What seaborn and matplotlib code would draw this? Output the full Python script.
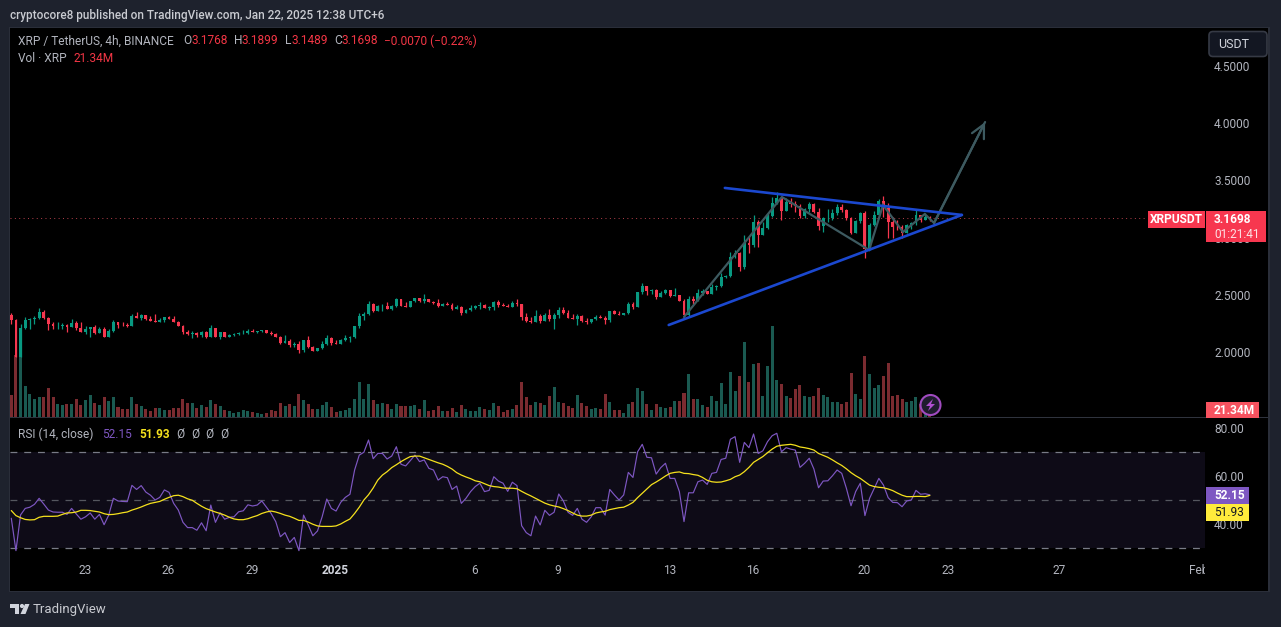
import numpy as np
import pandas as pd
import matplotlib
matplotlib.use("Agg")
import matplotlib.pyplot as plt
from matplotlib.patches import Rectangle, FancyBboxPatch, Circle, Polygon
from matplotlib.transforms import IdentityTransform
import seaborn as sns

# XRP/USDT 4h bars
start_time = pd.Timestamp("2024-12-20 08:30")
first_open = 2.323

closes = [
    2.280, 1.960, 2.213, 2.280, 2.286, 2.297, 2.350, 2.297, 2.245, 2.227,
    2.230, 2.236, 2.221, 2.254, 2.210, 2.175, 2.201, 2.218, 2.163, 2.201,
    2.131, 2.184, 2.262, 2.236, 2.232, 2.228, 2.315, 2.297, 2.323, 2.288,
    2.271, 2.262, 2.280, 2.306, 2.288, 2.262, 2.227, 2.175, 2.157, 2.163,
    2.149, 2.175, 2.131, 2.210, 2.131, 2.175, 2.131, 2.149, 2.157, 2.166,
    2.170, 2.184, 2.175, 2.181, 2.192, 2.166, 2.157, 2.131, 2.079, 2.096,
    2.061, 2.070, 2.017, 2.105, 2.044, 2.009, 2.035, 2.070, 2.122, 2.079,
    2.074, 2.105, 2.123, 2.134, 2.227, 2.315, 2.332, 2.420, 2.359, 2.402,
    2.405, 2.376, 2.402, 2.463, 2.402, 2.396, 2.446, 2.472, 2.446, 2.463,
    2.437, 2.431, 2.402, 2.420, 2.411, 2.376, 2.394, 2.341, 2.367, 2.385,
    2.402, 2.411, 2.385, 2.391, 2.437, 2.411, 2.405, 2.394, 2.428, 2.420,
    2.306, 2.271, 2.262, 2.315, 2.271, 2.324, 2.289, 2.324, 2.367, 2.341,
    2.297, 2.292, 2.315, 2.271, 2.265, 2.286, 2.306, 2.297, 2.280, 2.359,
    2.332, 2.324, 2.341, 2.420, 2.394, 2.525, 2.577, 2.533, 2.542, 2.481,
    2.516, 2.542, 2.490, 2.495, 2.446, 2.324, 2.463, 2.449, 2.513, 2.533,
    2.507, 2.568, 2.574, 2.659, 2.667, 2.827, 2.862, 2.746, 2.950, 2.935,
    3.139, 3.023, 3.081, 3.189, 3.305, 3.346, 3.235, 3.308, 3.291, 3.279,
    3.189, 3.250, 3.291, 3.227, 3.104, 3.168, 3.174, 3.212, 3.270, 3.241,
    3.168, 3.037, 3.145, 3.218, 2.897, 3.110, 3.197, 3.320, 3.262, 3.139,
    3.096, 3.090, 3.043, 3.110, 3.125, 3.197, 3.154, 3.177, 3.1698,
]
highs = [
    2.344, 2.290, 2.245, 2.303, 2.294, 2.315, 2.385, 2.367, 2.306, 2.262,
    2.262, 2.253, 2.245, 2.288, 2.271, 2.262, 2.227, 2.218, 2.236, 2.218,
    2.218, 2.201, 2.280, 2.262, 2.262, 2.253, 2.332, 2.350, 2.332, 2.323,
    2.315, 2.332, 2.297, 2.306, 2.315, 2.315, 2.271, 2.236, 2.192, 2.184,
    2.175, 2.184, 2.184, 2.236, 2.210, 2.175, 2.175, 2.157, 2.166, 2.175,
    2.192, 2.201, 2.201, 2.181, 2.192, 2.192, 2.184, 2.166, 2.140, 2.149,
    2.114, 2.087, 2.096, 2.105, 2.140, 2.052, 2.035, 2.096, 2.149, 2.131,
    2.105, 2.110, 2.149, 2.140, 2.227, 2.341, 2.350, 2.446, 2.428, 2.411,
    2.420, 2.437, 2.411, 2.472, 2.463, 2.437, 2.446, 2.472, 2.472, 2.507,
    2.463, 2.446, 2.463, 2.428, 2.437, 2.428, 2.411, 2.402, 2.376, 2.411,
    2.411, 2.437, 2.420, 2.402, 2.446, 2.455, 2.428, 2.420, 2.446, 2.463,
    2.420, 2.341, 2.306, 2.367, 2.332, 2.341, 2.376, 2.341, 2.394, 2.394,
    2.367, 2.332, 2.332, 2.324, 2.297, 2.286, 2.324, 2.324, 2.315, 2.359,
    2.367, 2.359, 2.341, 2.437, 2.437, 2.525, 2.603, 2.577, 2.551, 2.551,
    2.533, 2.551, 2.542, 2.560, 2.500, 2.460, 2.490, 2.490, 2.551, 2.551,
    2.533, 2.591, 2.586, 2.688, 2.676, 2.871, 2.892, 2.870, 3.023, 3.008,
    3.198, 3.154, 3.139, 3.212, 3.352, 3.396, 3.358, 3.343, 3.343, 3.323,
    3.294, 3.262, 3.308, 3.300, 3.256, 3.183, 3.247, 3.247, 3.291, 3.291,
    3.247, 3.183, 3.154, 3.227, 3.235, 3.125, 3.235, 3.335, 3.364, 3.300,
    3.183, 3.154, 3.110, 3.119, 3.139, 3.241, 3.197, 3.212, 3.1899,
]
lows = [
    2.245, 1.960, 1.960, 2.201, 2.201, 2.245, 2.288, 2.288, 2.192, 2.201,
    2.201, 2.201, 2.178, 2.218, 2.192, 2.175, 2.157, 2.131, 2.157, 2.166,
    2.131, 2.131, 2.175, 2.210, 2.227, 2.218, 2.227, 2.297, 2.280, 2.280,
    2.271, 2.262, 2.262, 2.262, 2.288, 2.262, 2.227, 2.157, 2.149, 2.122,
    2.131, 2.131, 2.122, 2.131, 2.131, 2.114, 2.131, 2.131, 2.140, 2.149,
    2.157, 2.157, 2.175, 2.166, 2.175, 2.166, 2.149, 2.131, 2.070, 2.079,
    2.044, 2.044, 1.991, 2.000, 2.035, 2.009, 2.009, 2.026, 2.061, 2.061,
    2.070, 2.073, 2.096, 2.088, 2.123, 2.210, 2.280, 2.323, 2.350, 2.359,
    2.359, 2.376, 2.367, 2.394, 2.402, 2.394, 2.394, 2.437, 2.437, 2.428,
    2.437, 2.420, 2.394, 2.402, 2.411, 2.367, 2.376, 2.324, 2.341, 2.359,
    2.376, 2.376, 2.385, 2.367, 2.367, 2.394, 2.402, 2.394, 2.394, 2.402,
    2.280, 2.262, 2.254, 2.262, 2.254, 2.271, 2.271, 2.201, 2.297, 2.332,
    2.297, 2.289, 2.236, 2.262, 2.245, 2.254, 2.280, 2.297, 2.245, 2.263,
    2.332, 2.324, 2.324, 2.332, 2.376, 2.394, 2.507, 2.498, 2.507, 2.463,
    2.481, 2.507, 2.481, 2.490, 2.446, 2.309, 2.318, 2.420, 2.449, 2.498,
    2.507, 2.507, 2.542, 2.565, 2.647, 2.653, 2.818, 2.708, 2.725, 2.863,
    2.921, 2.921, 3.023, 3.072, 3.177, 3.294, 3.154, 3.235, 3.270, 3.227,
    3.168, 3.174, 3.227, 3.218, 3.066, 3.052, 3.139, 3.154, 3.198, 3.227,
    3.154, 3.031, 3.037, 3.125, 2.819, 2.892, 3.101, 3.197, 3.183, 2.994,
    2.994, 3.066, 3.000, 3.037, 3.072, 3.110, 3.139, 3.154, 3.1489,
]
volumes = [
    60, 165, 165, 83, 62, 49, 54, 54, 78, 54,
    36, 33, 36, 36, 49, 33, 46, 60, 38, 33,
    54, 44, 54, 28, 22, 22, 54, 36, 30, 22,
    17, 25, 25, 20, 20, 25, 25, 49, 38, 38,
    25, 33, 28, 46, 36, 30, 20, 17, 12, 14,
    20, 17, 14, 12, 9, 12, 20, 17, 38, 30,
    36, 30, 62, 46, 36, 22, 22, 33, 41, 28,
    14, 17, 20, 25, 49, 94, 49, 89, 46, 36,
    38, 36, 22, 36, 30, 30, 30, 33, 22, 46,
    17, 20, 30, 17, 17, 25, 14, 33, 22, 17,
    17, 28, 22, 20, 38, 30, 14, 20, 22, 33,
    94, 54, 33, 41, 38, 33, 57, 81, 41, 38,
    30, 25, 60, 38, 30, 22, 25, 22, 62, 41,
    20, 20, 12, 36, 41, 78, 70, 36, 20, 36,
    28, 23, 26, 44, 44, 63, 114, 47, 47, 31,
    28, 55, 42, 90, 34, 119, 69, 109, 199, 93,
    141, 143, 55, 135, 242, 98, 87, 55, 50, 74,
    85, 55, 53, 55, 77, 58, 53, 39, 39, 36,
    39, 117, 61, 47, 162, 114, 77, 85, 109, 143,
    55, 58, 47, 39, 42, 53, 34, 20, 21.34,
]
rsi = [
    42.4, 28.9, 43.8, 46.5, 47.0, 48.2, 50.7, 48.3, 45.8, 45.0,
    44.9, 44.9, 44.0, 46.5, 44.2, 42.0, 43.0, 44.6, 42.0, 44.0,
    39.7, 43.7, 50.7, 49.6, 49.4, 49.3, 56.1, 54.4, 56.0, 53.3,
    52.0, 50.0, 51.1, 54.2, 53.2, 48.6, 45.8, 40.7, 38.5, 38.5,
    37.4, 40.5, 37.2, 47.9, 40.7, 44.7, 42.0, 42.8, 43.0, 45.1,
    45.5, 48.0, 47.5, 47.9, 49.6, 47.0, 44.4, 41.0, 34.7, 36.4,
    32.3, 34.4, 28.9, 43.7, 39.6, 35.1, 37.1, 43.0, 50.4, 46.5,
    45.4, 49.0, 51.1, 52.4, 62.5, 68.7, 69.9, 75.0, 67.2, 69.4,
    69.4, 67.1, 68.3, 72.2, 64.9, 64.2, 66.4, 68.7, 66.0, 66.7,
    63.2, 62.5, 58.3, 59.7, 59.3, 54.4, 55.8, 48.6, 50.7, 53.5,
    55.6, 57.0, 53.5, 54.0, 59.7, 57.9, 57.0, 53.6, 57.4, 56.0,
    39.3, 36.4, 35.1, 43.3, 39.6, 45.7, 43.6, 44.9, 52.5, 49.6,
    44.9, 43.6, 46.5, 42.0, 40.7, 43.0, 46.8, 46.8, 43.7, 54.4,
    52.1, 50.0, 52.1, 61.5, 59.4, 70.1, 73.2, 67.8, 67.6, 60.8,
    63.5, 65.3, 59.0, 59.0, 53.5, 41.0, 53.0, 53.0, 57.6, 58.3,
    56.5, 61.1, 61.5, 66.9, 67.4, 75.3, 76.4, 65.7, 74.0, 71.8,
    77.5, 69.4, 70.5, 74.3, 76.8, 77.8, 70.1, 71.8, 71.2, 70.8,
    63.6, 65.3, 67.4, 62.9, 55.1, 57.9, 58.0, 60.1, 62.5, 61.1,
    54.9, 47.6, 53.5, 57.0, 43.5, 50.7, 54.9, 59.0, 56.2, 51.0,
    49.0, 48.9, 47.2, 49.6, 50.0, 54.0, 52.4, 52.6, 52.15,
]
rsi_ma = [
    45.6, 43.5, 42.6, 41.9, 41.7, 41.8, 42.8, 43.2, 43.2, 43.2,
    43.3, 44.0, 44.6, 44.7, 45.0, 45.7, 45.7, 45.6, 45.3, 45.0,
    44.3, 43.9, 44.0, 44.3, 44.7, 45.0, 45.8, 46.4, 47.1, 47.9,
    48.6, 49.0, 49.4, 50.3, 51.1, 51.8, 52.0, 51.4, 50.5, 49.9,
    48.6, 47.4, 46.4, 45.7, 45.0, 44.4, 43.7, 42.8, 42.1, 41.8,
    41.8, 42.2, 42.9, 43.5, 44.4, 45.0, 45.4, 45.0, 44.4, 43.7,
    43.2, 42.4, 41.5, 41.5, 40.8, 39.9, 39.2, 39.0, 39.0, 39.0,
    39.2, 40.0, 41.1, 42.1, 44.4, 47.0, 50.0, 52.2, 55.0, 58.3,
    60.4, 61.8, 63.5, 64.7, 66.0, 67.1, 68.1, 68.3, 68.3, 67.6,
    66.9, 66.2, 65.5, 64.9, 64.0, 62.9, 61.4, 60.4, 59.6, 58.9,
    58.0, 57.6, 56.8, 56.0, 55.6, 55.4, 55.0, 54.9, 54.9, 54.7,
    53.6, 52.6, 51.7, 50.7, 49.7, 48.7, 48.0, 47.5, 47.1, 46.4,
    45.6, 44.6, 43.7, 43.3, 43.3, 43.7, 44.6, 45.0, 45.3, 46.0,
    46.4, 46.8, 47.0, 47.9, 49.0, 51.0, 52.8, 54.6, 56.4, 57.5,
    58.7, 60.0, 61.1, 61.5, 61.7, 61.1, 61.0, 60.6, 60.3, 59.4,
    58.2, 57.6, 57.4, 57.5, 58.0, 58.6, 59.7, 60.4, 61.8, 63.6,
    65.7, 66.9, 68.1, 69.7, 71.2, 72.4, 72.8, 73.0, 73.2, 72.8,
    72.1, 71.8, 71.4, 70.8, 69.4, 68.6, 67.8, 66.7, 65.5, 64.4,
    63.0, 61.4, 60.1, 59.0, 57.6, 56.2, 55.6, 55.3, 55.1, 54.6,
    53.9, 52.9, 52.0, 51.4, 51.4, 51.5, 51.5, 51.4, 51.93,
]

# hand-drawn lines on the chart (bar number, price)
upper_bar = [153.8, 204.9]
upper_price = [3.434, 3.198]
lower_bar = [141.7, 204.9]
lower_price = [2.236, 3.198]
path_bar = [145.0, 166.1, 184.9, 187.9, 192.2, 196.9, 198.9, 209.9]
path_price = [2.306, 3.355, 2.892, 3.285, 3.049, 3.206, 3.128, 4.010]

price_ticks = [2.0, 2.5, 3.0, 3.5, 4.0, 4.5]
rsi_ticks = [40, 60, 80]
rsi_levels = [30, 50, 70]
tick_dates = ["2024-12-23", "2024-12-26", "2024-12-29", "2025-01-01", "2025-01-06", "2025-01-09",
              "2025-01-13", "2025-01-16", "2025-01-20", "2025-01-23", "2025-01-27", "2025-02-01"]
tick_labels = ["23", "26", "29", "2025", "6", "9", "13", "16", "20", "23", "27", "Feb"]

W, H = 1281, 627
BG = "#1e222d"
FRAME = "#2a2e39"
GREY = "#b2b5be"
GREEN = "#089981"
RED = "#f7374f"
VOL_GREEN = "#1a5a51"
VOL_RED = "#7b2b30"
PURPLE = "#7e57c2"
YELLOW = "#f5e11d"
BLUE = "#1b48cf"
PATH = "#3d5a60"

sns.set_theme(style="dark", rc={"axes.facecolor": "none", "figure.facecolor": BG})
plt.rcParams["font.family"] = ["Roboto", "DejaVu Sans"]

df = pd.DataFrame({"close": closes, "high": highs, "low": lows, "volume": volumes, "rsi": rsi, "rsi_ma": rsi_ma})
df["bar"] = np.arange(len(df))
df["open"] = df["close"].shift(1).fillna(first_open)
df["side"] = np.where(df["close"] >= df["open"], "up", "down")
candle_colors = df["side"].map({"up": GREEN, "down": RED})

fig = plt.figure(figsize=(W / 100, H / 100), dpi=100)


def pane(left, top, right, bottom):
    return fig.add_axes([left / W, 1 - bottom / H, (right - left) / W, (bottom - top) / H])


def label(x, y, s, color=GREY, size=8.6, weight="normal", ha="left", zorder=7):
    fig.text(x, H - y, s, color=color, fontsize=size, fontweight=weight, ha=ha, va="center",
             transform=IdentityTransform(), zorder=zorder)


def box(x0, y0, x1, y1, color, zorder=5):
    fig.add_artist(Rectangle((x0, H - y1), x1 - x0, y1 - y0, facecolor=color, edgecolor="none",
                             transform=IdentityTransform(), zorder=zorder))


# black chart area behind the panes
box(9, 27, 1270, 592, FRAME, zorder=-2)
box(10, 28, 1268, 591, "#000000", zorder=-1)

ax = pane(10, 28, 1205, 417)
vol_ax = ax.twinx()
rsi_ax = pane(10, 418, 1205, 590)
x_limits = (-0.28, 257.3)

# candles
ax.vlines(df["bar"], df["low"], df["high"], colors=candle_colors, linewidth=0.9, zorder=2)
ax.bar(df["bar"], (df["close"] - df["open"]).abs(), bottom=df[["open", "close"]].min(axis=1),
       width=0.62, color=candle_colors, edgecolor="none", linewidth=0, zorder=3)
ax.axhline(closes[-1], xmax=0.952, color="#b8404d", linestyle=(0, (1, 3.5)), linewidth=0.7, zorder=1)
ax.set_xlim(x_limits)
ax.set_ylim(1.432, 4.832)
ax.yaxis.tick_right()
ax.set_yticks(price_ticks, [f"{p:.4f}" for p in price_ticks])
ax.tick_params(axis="y", length=0, pad=6.5, labelsize=8.6, labelcolor=GREY)
ax.set_xticks([])
ax.grid(False)

# volume
sns.barplot(data=df, x="bar", y="volume", hue="side", palette={"up": VOL_GREEN, "down": VOL_RED},
            native_scale=True, dodge=False, width=0.65, saturation=1, legend=False, ax=vol_ax,
            edgecolor="none", linewidth=0, zorder=4)
vol_ax.set_xlim(x_limits)
vol_ax.set_ylim(0, 1039)
vol_ax.set_xlabel("")
vol_ax.set_ylabel("")
vol_ax.set_xticks([])
vol_ax.set_yticks([])
vol_ax.grid(False)

# triangle and projected path
sns.lineplot(x=upper_bar, y=upper_price, color=BLUE, linewidth=1.9, ax=ax, zorder=6)
sns.lineplot(x=lower_bar, y=lower_price, color=BLUE, linewidth=1.9, ax=ax, zorder=6)
ax.plot(path_bar, path_price, color=PATH, linewidth=1.6, zorder=5, solid_joinstyle="miter")
ax.annotate("", xy=(path_bar[-1], path_price[-1]), xytext=(path_bar[-2], path_price[-2]),
            arrowprops=dict(arrowstyle="->", color=PATH, lw=1.6, mutation_scale=24, shrinkA=0, shrinkB=0), zorder=5)
ax.set_xlim(x_limits)
ax.set_ylim(1.432, 4.832)
ax.set_xlabel("")
ax.set_ylabel("")
ax.set_zorder(vol_ax.get_zorder() + 1)

# RSI
rsi_ax.axhspan(rsi_levels[0], rsi_levels[-1], xmin=0, xmax=1, color="#0e0b17", linewidth=0, zorder=0)
for level in rsi_levels:
    rsi_ax.axhline(level, color="#787b86" if level != 50 else "#55575f", linewidth=0.9,
                   linestyle=(0, (5.5, 5.5)), zorder=1)
sns.lineplot(data=df, x="bar", y="rsi", color=PURPLE, linewidth=0.85, ax=rsi_ax, zorder=2)
sns.lineplot(data=df, x="bar", y="rsi_ma", color=YELLOW, linewidth=0.9, ax=rsi_ax, zorder=3)
rsi_ax.set_xlim(x_limits)
rsi_ax.set_ylim(12.5, 84.17)
rsi_ax.set_xlabel("")
rsi_ax.set_ylabel("")
rsi_ax.yaxis.tick_right()
rsi_ax.set_yticks(rsi_ticks, [f"{v:.2f}" for v in rsi_ticks])
rsi_ax.tick_params(axis="y", length=0, pad=6.5, labelsize=8.6, labelcolor=GREY)
tick_pos = [(pd.Timestamp(d) - start_time) / pd.Timedelta(hours=4) for d in tick_dates]
rsi_ax.set_xticks(tick_pos, tick_labels)
rsi_ax.tick_params(axis="x", length=0, pad=-19, labelsize=8.6, labelcolor=GREY)
for lab in rsi_ax.get_xticklabels():
    lab.set_clip_on(True)
    lab.set_clip_box(rsi_ax.bbox)
    if lab.get_text() == "2025":
        lab.set_fontweight("bold")
        lab.set_color("#d1d4dc")
rsi_ax.grid(False)

for a in (ax, vol_ax, rsi_ax):
    for spine in a.spines.values():
        spine.set_visible(False)

# pane divider and axis separator
box(10, 417, 1268, 418, "#2f333d", zorder=4)

# header
label(10, 15, "cryptocore8 published on TradingView.com, Jan 22, 2025 12:38 UTC+6", color="#c9cbd1", size=8.5, weight="medium")

legend_items = [
    (18, "XRP / TetherUS, 4h, BINANCE", GREY), (183, "O", GREY), (191, "3.1768", "#f23645"),
    (234, "H", GREY), (242, "3.1899", "#f23645"), (285, "L", GREY), (291, "3.1489", "#f23645"),
    (334, "C", GREY), (342, "3.1698", "#f23645"), (384, "−0.0070 (−0.22%)", "#f23645"),
]
for x, s, c in legend_items:
    label(x, 41, s, color=c)
label(18, 59, "Vol · XRP")
label(73, 59, "21.34M", color="#f23645")

label(18, 434, "RSI (14, close)")
label(102, 434, "52.15", color=PURPLE)
label(139, 434, "51.93", color=YELLOW, weight="bold")
for x in (176, 191, 205, 220):
    label(x, 434, "Ø")

# currency button
fig.add_artist(FancyBboxPatch((1209, H - 56.5), 58, 25, boxstyle="round,pad=0,rounding_size=4", mutation_aspect=1,
                              facecolor="#131722", edgecolor="#363a45", linewidth=1.2,
                              transform=IdentityTransform(), zorder=5))
label(1218, 44.5, "USDT", color="#d1d4dc", size=9)

# price tags on the scale
box(1148, 211, 1205, 228, "#f7374f")
label(1176.5, 219.5, "XRPUSDT", color="white", weight="bold", ha="center")
box(1206, 211, 1266, 242, "#f7374f")
label(1214, 219.5, "3.1698", color="white", weight="bold")
label(1214, 234, "01:21:41", color="#fde1e4")
box(1206, 402, 1259, 418, "#f7525f")
label(1214, 410, "21.34M", color="white", weight="bold")
box(1206, 487, 1249, 504, PURPLE)
label(1214, 495.5, "52.15", color="white", weight="bold")
box(1206, 504, 1249, 521, "#ffeb3b")
label(1214, 512.5, "51.93", color="#131722")

# bolt badge
fig.add_artist(Circle((930.5, H - 405), 10, facecolor="#1f1c2e", edgecolor="#a04bc0", linewidth=1.5,
                      transform=IdentityTransform(), zorder=6))
fig.add_artist(Polygon([(933, H - 399), (926, H - 406), (930, H - 406), (928, H - 411),
                        (935, H - 404), (931, H - 404)], closed=True, facecolor="#b04fd0", edgecolor="none",
                       transform=IdentityTransform(), zorder=7))

# footer logo
logo = "#d1d4dc"
fig.add_artist(Polygon([(10, H - 604), (19, H - 604), (19, H - 614), (14.5, H - 614), (14.5, H - 608), (10, H - 608)],
                       closed=True, facecolor=logo, edgecolor="none", transform=IdentityTransform(), zorder=6))
fig.add_artist(Circle((22, H - 606), 2.1, facecolor=logo, edgecolor="none", transform=IdentityTransform(), zorder=6))
fig.add_artist(Polygon([(25, H - 604), (29.5, H - 604), (25.5, H - 614), (20.5, H - 614)], closed=True,
                       facecolor=logo, edgecolor="none", transform=IdentityTransform(), zorder=6))
label(33, 609.5, "TradingView", color="#c9cbd1", size=9.5)

fig.savefig("out.png", dpi=100, facecolor=BG)
